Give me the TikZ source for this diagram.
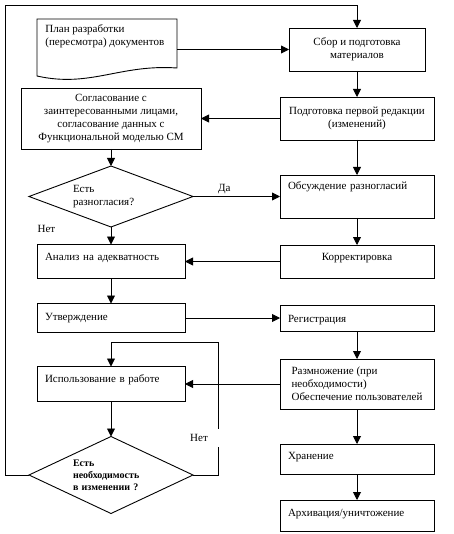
\documentclass[tikz,border=0pt]{standalone}
\usepackage{fontspec}
\setmainfont{Liberation Serif}
\usetikzlibrary{positioning,arrows.meta,shapes.geometric}

\begin{document}
\begin{tikzpicture}[x=1pt, y=-1pt, font=\fontsize{11}{13}\selectfont, line width=0.9pt, box/.style={draw, align=center, inner xsep=8pt, inner ysep=2pt, outer sep=0pt}, wide/.style={box, text width=138pt}, narrow/.style={box, text width=132pt}, fixrow/.style 2 args={text height=#1, text depth=#2, inner ysep=0pt, align=left}, dia/.style={draw, diamond, inner sep=0pt, outer sep=0pt, minimum width=164pt, text width=76pt, align=left}, arr/.style={-{Triangle[length=8pt, width=8pt]}}]
\useasboundingbox (0,0) rectangle (453,534);
\node[box, minimum width=136pt, minimum height=43pt] (sbor) at (357,49.5) {Сбор и подготовка\\материалов};
\node[box, minimum width=154pt, minimum height=43pt, below=26pt of sbor] (podg) {Подготовка первой редакции\\(изменений)};
\node[wide, fixrow={14.5pt}{28.5pt}, below=35pt of podg] (obs) {Обсуждение разногласий};
\node[wide, fixrow={15.5pt}{17.5pt}, align=center, below=27pt of obs] (korr) {Корректировка};
\node[wide, fixrow={17.5pt}{8.5pt}, below=27pt of korr] (reg) {Регистрация};
\node[box, align=left, minimum width=154pt, minimum height=50pt, below=28pt of reg] (razm) {Размножение (при\\необходимости)\\Обеспечение пользователей};
\node[wide, fixrow={15.5pt}{14.5pt}, below=35pt of razm] (hran) {Хранение};
\node[wide, fixrow={16.5pt}{14.5pt}, below=26pt of hran] (arch) {Архивация/уничтожение};
\node[minimum width=140pt, minimum height=61pt, inner sep=0pt, outer sep=0pt, left=112pt of sbor, label={[anchor=north west, align=left, inner xsep=8pt, inner ysep=5pt]north west:{План разработки\\(пересмотра) документов}}] (plan) {};
\node[box, minimum width=180pt, minimum height=61pt, left=79pt of podg] (sogl) {Согласование с\\заинтересованными лицами,\\согласование данных с\\Функциональной моделью СМ};
\node[dia, aspect=2.69, minimum height=61pt, left=87pt of obs] (d1) {Есть\\разногласия?};
\node[narrow, fixrow={15.5pt}{18.5pt}, left=95pt of korr] (anal) {Анализ на адекватность};
\node[narrow, fixrow={16.5pt}{12.5pt}, left=95pt of reg] (utv) {Утверждение};
\node[narrow, fixrow={15.5pt}{19.5pt}, left=95pt of razm] (isp) {Использование в работе};
\node[dia, aspect=2.13, minimum height=77pt, font=\fontsize{10}{12}\selectfont\bfseries, below=35pt of isp] (d2) {Есть\\необходимость\\в изменении ?};
\draw (plan.north west) -- (plan.north east) -- ([yshift=12pt]plan.south east) .. controls ([xshift=-57pt, yshift=16pt]plan.south east) and ([xshift=-87pt, yshift=-8pt]plan.south east) .. ([yshift=4pt]plan.south west) -- cycle;
\draw[arr] (plan.east) -- (sbor.west); \draw[arr] (sbor) -- (podg); \draw[arr] (podg.west) -- (sogl.east); \draw[arr] (sogl) -- (d1);
\draw[arr] (podg) -- (obs); \draw[arr] (obs) -- (korr); \draw[arr] (korr.west) -- (anal.east);
\draw[arr] (d1.east) -- node[pos=0.36, above, inner sep=2pt] {Да} (obs.west);
\draw[arr] (d1.south) -- node[pos=0.1, left=52pt] {Нет} (anal.north);
\draw[arr] (anal) -- (utv); \draw[arr] (utv.east) -- (reg.west); \draw[arr] (reg) -- (razm); \draw[arr] (razm.west) -- (isp.east);
\draw[arr] (razm) -- (hran); \draw[arr] (hran) -- (arch); \draw[arr] (isp) -- (d2);
\draw[arr] (d2.east) -- ++(25,0) |- node[pos=0.14, xshift=-19pt, fill=white, inner xsep=11pt, inner ysep=5pt] {Нет} ([yshift=24pt]isp.north) -- (isp.north);
\draw[arr] (d2.west) -- ++(-24,0) |- ([yshift=23pt]sbor.north) -- (sbor.north);
\end{tikzpicture}
\end{document}
